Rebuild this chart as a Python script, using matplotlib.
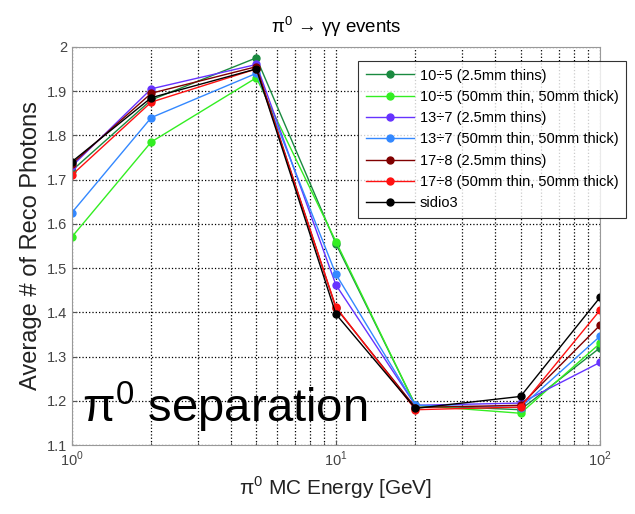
import matplotlib
matplotlib.use("Agg")
import matplotlib.pyplot as plt
import numpy as np

plt.rcParams['font.family'] = ['Liberation Sans', 'DejaVu Sans']
plt.rcParams['mathtext.fontset'] = 'custom'
plt.rcParams['mathtext.rm'] = 'Liberation Sans'

energy = [1, 2, 5, 10, 20, 50, 100]
labels = ["10÷5 (2.5mm thins)", "10÷5 (50mm thin, 50mm thick)", "13÷7 (2.5mm thins)",
          "13÷7 (50mm thin, 50mm thick)", "17÷8 (2.5mm thins)",
          "17÷8 (50mm thin, 50mm thick)", "sidio3"]
s_10_5_thin = [1.72, 1.88, 1.975, 1.555, 1.19, 1.18, 1.32]
s_10_5_thick = [1.57, 1.785, 1.93, 1.56, 1.19, 1.172, 1.33]
s_13_7_thin = [1.73, 1.905, 1.96, 1.462, 1.19, 1.195, 1.287]
s_13_7_thick = [1.625, 1.84, 1.94, 1.486, 1.19, 1.185, 1.346]
s_17_8_thin = [1.735, 1.895, 1.955, 1.41, 1.185, 1.19, 1.371]
s_17_8_thick = [1.71, 1.875, 1.95, 1.412, 1.18, 1.186, 1.405]
s_sidio3 = [1.74, 1.885, 1.95, 1.396, 1.183, 1.21, 1.434]
series = [s_10_5_thin, s_10_5_thick, s_13_7_thin, s_13_7_thick, s_17_8_thin, s_17_8_thick, s_sidio3]
colors = ['#1a8a40', '#33ee22', '#6633ff', '#3388ff', '#800000', '#ff1111', '#000000']

fig = plt.figure(figsize=(6.35, 5.14), dpi=100)
ax = fig.add_axes([0.113, 0.134, 0.832, 0.775])

handles = []
for s, c, lab in zip(series, colors, labels):
    h, = ax.plot(energy, s, '-', color=c, lw=1.0, marker='o', ms=5, mfc=c, mec=c, label=lab)
    handles.append(h)

ax.set_xscale('log')
ax.set_xlim(1, 100)
ax.set_ylim(1.1, 2.0)
ax.set_yticks(np.arange(1.1, 2.001, 0.1))
ax.set_yticklabels(['1.1', '1.2', '1.3', '1.4', '1.5', '1.6', '1.7', '1.8', '1.9', '2'])
ax.set_xticks([1, 10, 100])
ax.set_xticklabels([r'$10^0$', r'$10^1$', r'$10^2$'])
ax.grid(True, which='major', linestyle=':', color='black', lw=0.9)
ax.grid(True, which='minor', axis='x', linestyle=':', color='black', lw=0.9)
ax.tick_params(axis='both', which='both', direction='in', colors='#555555', labelsize=10.5, labelcolor='#444444')
for sp in ax.spines.values():
    sp.set_color('#999999')

ax.set_title('π$^0$ → γγ events', fontsize=13.5, pad=10)
ax.set_xlabel('π$^0$ MC Energy [GeV]', fontsize=15, color='#222222')
ax.set_ylabel('Average # of Reco Photons', fontsize=17, color='#222222', labelpad=3)

ax.text(0.02, 0.025, 'π$^0$ separation', transform=ax.transAxes, fontsize=34,
        color='black', ha='left', va='bottom')

leg = fig.legend(handles=handles, loc='upper left', bbox_to_anchor=(0.553, 0.895),
                 fontsize=10.5, frameon=True, fancybox=False, labelspacing=0.5,
                 handlelength=3.3, handletextpad=0.4, borderpad=0.5)
leg.get_frame().set_edgecolor('black')
leg.get_frame().set_linewidth(0.8)

fig.savefig('out.png', dpi=100)
